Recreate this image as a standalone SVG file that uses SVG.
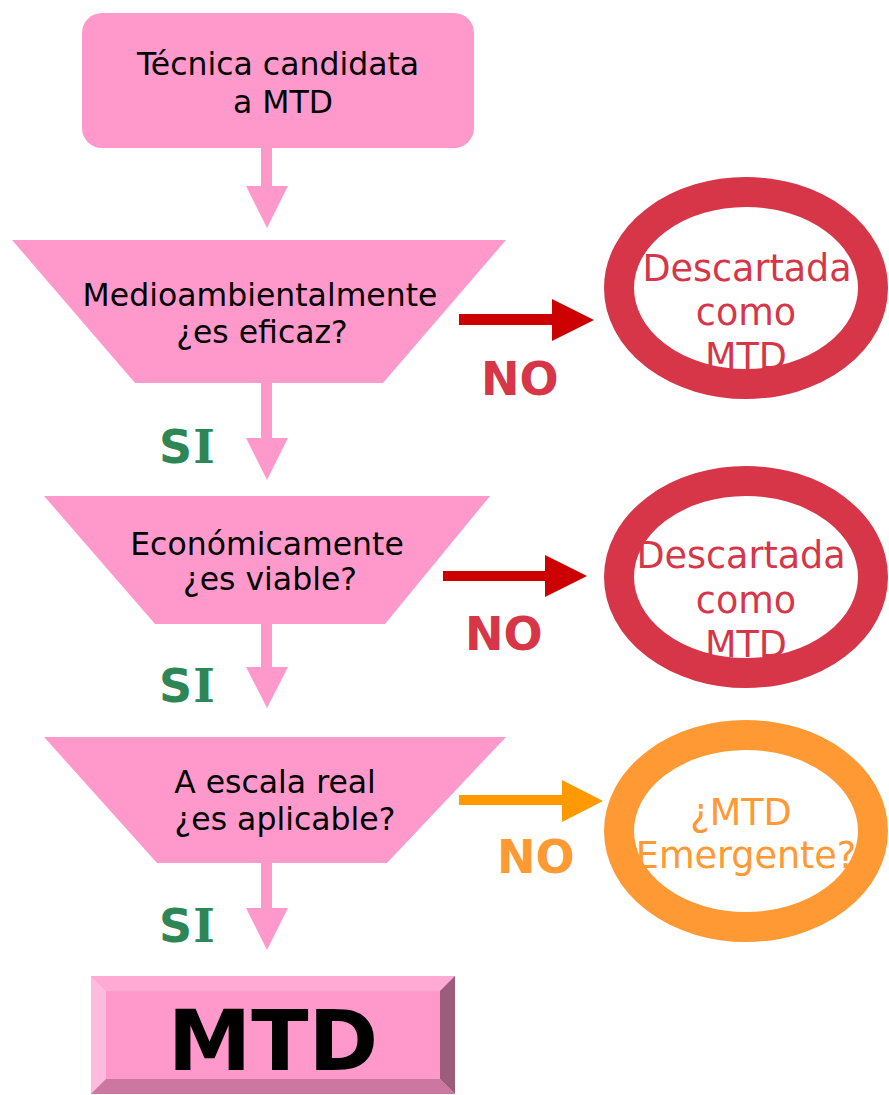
<svg xmlns="http://www.w3.org/2000/svg" width="889" height="1095" viewBox="0 0 889 1095">
<style>
.box{fill:#FF99CC}
.t{font-family:"DejaVu Sans",Verdana,sans-serif;font-size:31.5px;fill:#000;text-anchor:middle}
.si{font-family:"DejaVu Sans",Verdana,sans-serif;font-size:46px;font-weight:bold;fill:#2E8555}
.sf{font-family:"DejaVu Serif",serif}
.no{font-family:"DejaVu Sans",Verdana,sans-serif;font-size:46px;font-weight:bold;fill:#D63647}
.noo{fill:#FF9933}
.ell{fill:none;stroke-width:30}
.et{font-family:"DejaVu Sans",Verdana,sans-serif;font-size:36.5px;text-anchor:middle}
.pa{fill:#FF99CC}
</style>
<rect width="889" height="1095" fill="#fff"/>
<g id="connectors">
<polygon class="pa" points="261,148 272,148 272,186 288,186 267,228 246,186 261,186"/>
<polygon class="pa" points="261,383 272,383 272,438 288,438 267,480 246,438 261,438"/>
<polygon class="pa" points="261,624 272,624 272,667 288,667 267,708 246,667 261,667"/>
<polygon class="pa" points="261,863 272,863 272,908 288,908 267,950 246,908 261,908"/>
<polygon fill="#CC0000" points="459,314 552,314 552,299 594,320 552,341 552,325 459,325"/>
<polygon fill="#CC0000" points="443,571 545,571 545,555 587,576 545,597 545,581 443,581"/>
<polygon fill="#FF9900" points="459,795 562,795 562,780 603,801 562,822 562,805 459,805"/>
<text class="si" x="159" y="463">S<tspan class="sf" dx="1">I</tspan></text>
<text class="si" x="159" y="702">S<tspan class="sf" dx="1">I</tspan></text>
<text class="si" x="159" y="942">S<tspan class="sf" dx="1">I</tspan></text>
<text class="no" x="481" y="395">NO</text>
<text class="no" x="465" y="650">NO</text>
<text class="no noo" x="497" y="873">NO</text>
</g>
<g id="start">
<rect class="box" x="82" y="13" width="392" height="135" rx="20"/>
<text class="t" x="278" y="75">Técnica candidata</text>
<text class="t" x="283" y="113">a MTD</text>
</g>
<g id="q1">
<polygon class="box" points="12,240 506,240 383,383 135,383"/>
<text class="t" x="260" y="306">Medioambientalmente</text>
<text class="t" x="262" y="343">¿es eficaz?</text>
</g>
<g id="q2">
<polygon class="box" points="44,496 490,496 385,624 155,624"/>
<text class="t" x="267" y="555">Económicamente</text>
<text class="t" x="270" y="590">¿es viable?</text>
</g>
<g id="q3">
<polygon class="box" points="44,737 506,737 387,863 157,863"/>
<text class="t" x="275" y="793">A escala real</text>
<text class="t" x="285" y="830">¿es aplicable?</text>
</g>
<g id="d1">
<ellipse class="ell" cx="746" cy="288" rx="127" ry="96" stroke="#D63647"/>
<text class="et" fill="#D63647" x="747" y="281">Descartada</text>
<text class="et" fill="#D63647" x="746" y="325">como</text>
<text class="et" fill="#D63647" x="746" y="369">MTD</text>
</g>
<g id="d2">
<ellipse class="ell" cx="746" cy="577" rx="127" ry="96" stroke="#D63647"/>
<text class="et" fill="#D63647" x="741" y="568">Descartada</text>
<text class="et" fill="#D63647" x="746" y="613">como</text>
<text class="et" fill="#D63647" x="746" y="657">MTD</text>
</g>
<g id="d3">
<ellipse class="ell" cx="746" cy="831" rx="127" ry="96" stroke="#FF9933"/>
<text class="et" fill="#FF9933" x="741" y="825">¿MTD</text>
<text class="et" fill="#FF9933" x="746" y="868">Emergente?</text>
</g>
<g id="mtd">
<rect x="91" y="976" width="364" height="118" fill="#FF99CC"/>
<polygon fill="#FFAAD4" points="91,976 455,976 440,991 106,991"/>
<polygon fill="#FFBBDD" points="91,976 106,991 106,1079 91,1094"/>
<polygon fill="#9C5C7C" points="455,976 455,1094 440,1079 440,991"/>
<polygon fill="#CC77A0" points="91,1094 455,1094 440,1079 106,1079"/>
<text x="273" y="1070" font-family="DejaVu Sans,Verdana,sans-serif" font-size="84" font-weight="bold" text-anchor="middle" fill="#000">MTD</text>
</g>
</svg>
